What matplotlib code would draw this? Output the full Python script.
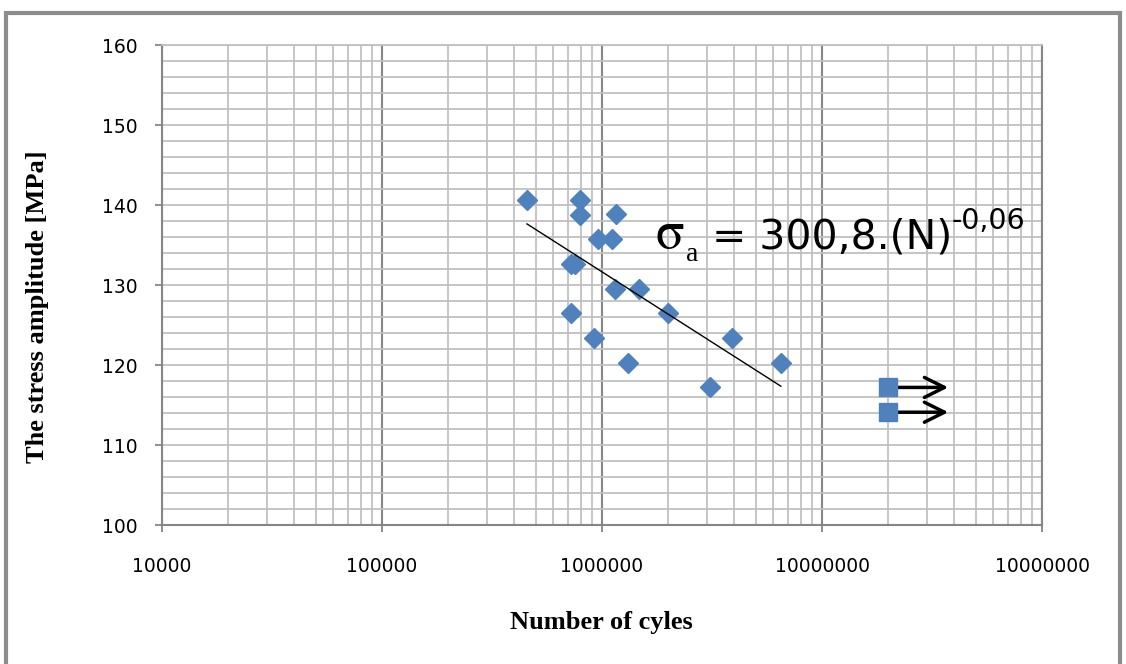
"""S-N curve: stress amplitude vs number of cycles (log x)."""

import matplotlib
matplotlib.use("Agg")
import matplotlib.pyplot as plt
import matplotlib.patches as mpatches
from matplotlib.ticker import FixedLocator, LogLocator, MultipleLocator, NullFormatter
import numpy as np

# ── Data ──────────────────────────────────────────────────────────────
cycles = [456e3, 795e3, 795e3, 1.16e6, 0.96e6, 1.11e6, 0.72e6, 0.75e6,
          0.72e6, 1.15e6, 1.47e6, 2.0e6, 0.92e6, 1.31e6, 3.1e6, 3.9e6, 6.5e6]
stress = [140.6, 140.6, 138.7, 138.9, 135.7, 135.7, 132.6, 132.6,
          126.5, 129.5, 129.5, 126.5, 123.4, 120.3, 117.2, 123.4, 120.3]

runout_cycles = [2.0e7, 2.0e7]
runout_stress = [117.2, 114.1]
runout_arrow_end = 3.75e7

fit_coef = 300.8
fit_exp = -0.06

x_ticks = [1e4, 1e5, 1e6, 1e7, 1e8]
x_ticklabels = ["10000", "100000", "1000000", "10000000", "10000000"]
y_ticks = [100, 110, 120, 130, 140, 150, 160]

blue = "#4F81BD"
light = "#C0C0C0"
dark = "#868686"
sans = "DejaVu Sans"
serif = "Liberation Serif"

plt.rcParams["mathtext.fontset"] = "stix"

# ── Figure ────────────────────────────────────────────────────────────
fig = plt.figure(figsize=(11.26, 6.64), dpi=100)
ax = fig.add_axes([0.1439, 0.2093, 0.9254 - 0.1439, 0.9322 - 0.2093])

ax.set_xscale("log")
ax.set_xlim(1e4, 1e8)
ax.set_ylim(100, 160)

# grid
ax.xaxis.set_major_locator(FixedLocator(x_ticks))
ax.xaxis.set_minor_locator(LogLocator(base=10, subs=np.arange(2, 10)))
ax.xaxis.set_minor_formatter(NullFormatter())
ax.yaxis.set_major_locator(FixedLocator(y_ticks))
ax.yaxis.set_minor_locator(MultipleLocator(2))
ax.grid(which="minor", axis="both", color=light, linewidth=1.3)
ax.grid(which="major", axis="y", color=light, linewidth=1.3)
ax.grid(which="major", axis="x", color=dark, linewidth=1.5)
ax.set_axisbelow(True)

ax.set_xticks(x_ticks)
ax.set_xticklabels(x_ticklabels)
ax.tick_params(which="minor", length=0)
ax.tick_params(which="major", direction="out", length=5, width=1.3, color=dark,
               labelsize=13.5, labelcolor="black")
ax.tick_params(axis="x", pad=18)
ax.tick_params(axis="y", pad=12.5)
for lab in ax.get_xticklabels() + ax.get_yticklabels():
    lab.set_fontfamily(sans)

for side in ("left", "bottom", "right"):
    ax.spines[side].set_color(dark)
    ax.spines[side].set_linewidth(1.5)
ax.spines["top"].set_color(light)
ax.spines["top"].set_linewidth(1.3)

# data
ax.plot(cycles, stress, linestyle="none", marker="D", markersize=10,
        color=blue, zorder=3)

n_fit = np.array([min(cycles), max(cycles)])
ax.plot(n_fit, fit_coef * n_fit ** fit_exp, color="black", linewidth=1, zorder=4)

for n0, s0 in zip(runout_cycles, runout_stress):
    ax.annotate("", xy=(runout_arrow_end, s0), xytext=(n0, s0),
                arrowprops=dict(arrowstyle="->", lw=2.5, color="black",
                                mutation_scale=36, shrinkA=0, shrinkB=0),
                zorder=3)
ax.plot(runout_cycles, runout_stress, linestyle="none", marker="s",
        markersize=13.5, color=blue, zorder=5)

# fitted equation, built piece by piece on a common baseline
eq_x, eq_y = 1.75e6, 134.6
t_sig = ax.text(eq_x, eq_y, r"$\mathrm{\sigma}$", fontsize=38,
                ha="left", va="baseline", zorder=6)
t_sub = ax.annotate("a", xy=(1, eq_y), xycoords=(t_sig, "data"),
                    xytext=(1, -9), textcoords="offset points",
                    fontsize=20, fontfamily=serif, ha="left", va="baseline", zorder=6)
t_main = ax.annotate(" = 300,8.(N)", xy=(1, eq_y), xycoords=(t_sub, "data"),
                     fontsize=29.5, fontfamily=sans, ha="left", va="baseline", zorder=6)
ax.annotate("-0,06", xy=(1, eq_y), xycoords=(t_main, "data"),
            xytext=(0, 14), textcoords="offset points",
            fontsize=20.5, fontfamily=sans, ha="left", va="baseline", zorder=6)

fig.text(601 / 1126, 1 - 622 / 664, "Number of cyles", fontsize=19,
         fontweight="bold", fontfamily=serif, ha="center", va="center")
fig.text(38 / 1126, 1 - 307 / 664, "The stress amplitude [MPa]", fontsize=19,
         fontweight="bold", fontfamily=serif, ha="center", va="center",
         rotation=90)

# outer chart frame
fig.patches.append(mpatches.Rectangle((6 / 1126, -0.1), 1114 / 1126, 1.1 - 13 / 664,
                                      transform=fig.transFigure, fill=False,
                                      edgecolor="#8C8C8C", linewidth=3))

fig.patch.set_facecolor("white")
fig.savefig("out.png", dpi=100, facecolor="white")
